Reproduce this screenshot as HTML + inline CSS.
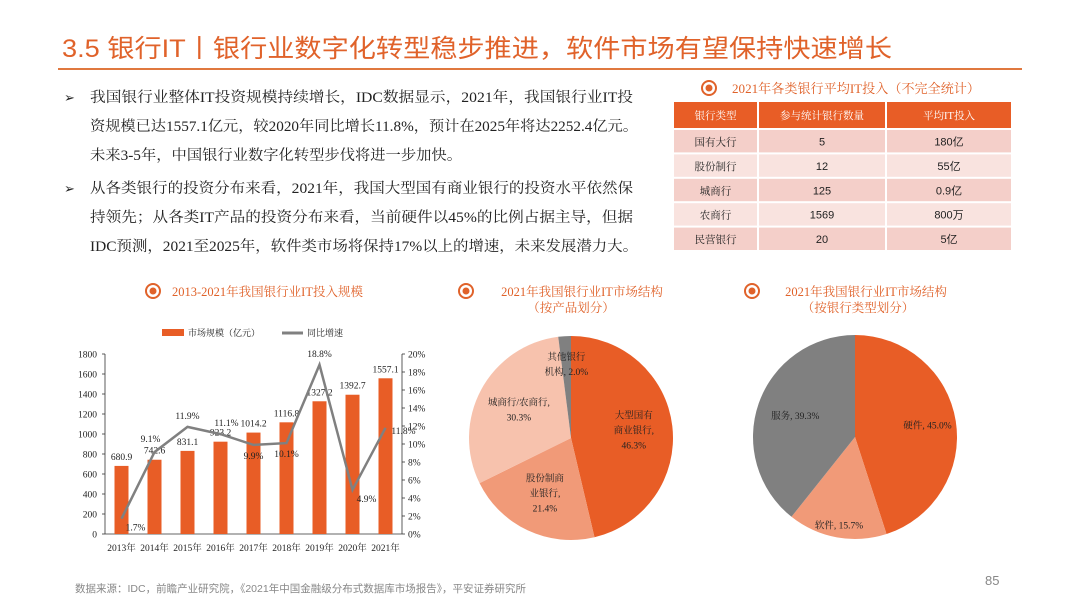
<!DOCTYPE html>
<html><head><meta charset="utf-8">
<style>
body{margin:0;background:#fff;}
#root{position:relative;width:1080px;height:608px;overflow:hidden;font-family:"Liberation Serif","Noto Serif CJK SC",serif;}
svg text{font-family:"Liberation Serif","Noto Serif CJK SC",serif;}
</style></head>
<body>
<div id="root">
<svg id="s" width="1080" height="608" viewBox="0 0 1080 608">
  <text x="62" y="57" font-size="25" fill="#e0622a" textLength="830" lengthAdjust="spacingAndGlyphs" style="font-family:'Liberation Sans','Noto Sans CJK SC',sans-serif">3.5 银行IT丨银行业数字化转型稳步推进，软件市场有望保持快速增长</text>
  <line x1="58" y1="69" x2="1022" y2="69" stroke="#e0783f" stroke-width="2"/>

  <g font-size="14.5" fill="#222">
    <text x="64" y="102" font-size="13">➢</text>
    <text x="90" y="102" textLength="543" lengthAdjust="spacingAndGlyphs">我国银行业整体IT投资规模持续增长，IDC数据显示，2021年，我国银行业IT投</text>
    <text x="90" y="131" textLength="548" lengthAdjust="spacingAndGlyphs">资规模已达1557.1亿元，较2020年同比增长11.8%，预计在2025年将达2252.4亿元。</text>
    <text x="90" y="160" textLength="372" lengthAdjust="spacingAndGlyphs">未来3-5年，中国银行业数字化转型步伐将进一步加快。</text>
    <text x="64" y="193" font-size="13">➢</text>
    <text x="90" y="193" textLength="543" lengthAdjust="spacingAndGlyphs">从各类银行的投资分布来看，2021年，我国大型国有商业银行的投资水平依然保</text>
    <text x="90" y="222" textLength="543" lengthAdjust="spacingAndGlyphs">持领先；从各类IT产品的投资分布来看，当前硬件以45%的比例占据主导，但据</text>
    <text x="90" y="251" textLength="548" lengthAdjust="spacingAndGlyphs">IDC预测，2021至2025年，软件类市场将保持17%以上的增速，未来发展潜力大。</text>
  </g>

  <!-- table -->
  <g>
    <circle cx="709" cy="88" r="7" fill="none" stroke="#e0622a" stroke-width="2"/>
    <circle cx="709" cy="88" r="3.5" fill="#e0622a"/>
    <text x="732" y="93" font-size="13" fill="#e0622a" textLength="248" lengthAdjust="spacingAndGlyphs">2021年各类银行平均IT投入（不完全统计）</text>
  </g>
  <g id="tbl"></g>

  <!-- chart titles -->
  <g>
    <circle cx="153" cy="291" r="7" fill="none" stroke="#e0622a" stroke-width="2"/><circle cx="153" cy="291" r="3.5" fill="#e0622a"/>
    <text x="172" y="296" font-size="12.5" fill="#e0622a">2013-2021年我国银行业IT投入规模</text>
  </g>
  <g>
    <circle cx="466" cy="291" r="7" fill="none" stroke="#e0622a" stroke-width="2"/><circle cx="466" cy="291" r="3.5" fill="#e0622a"/>
    <text x="582" y="296" font-size="12.5" fill="#e0622a" text-anchor="middle">2021年我国银行业IT市场结构</text>
    <text x="571" y="312" font-size="12.5" fill="#e0622a" text-anchor="middle">（按产品划分）</text>
  </g>
  <g>
    <circle cx="752" cy="291" r="7" fill="none" stroke="#e0622a" stroke-width="2"/><circle cx="752" cy="291" r="3.5" fill="#e0622a"/>
    <text x="866" y="296" font-size="12.5" fill="#e0622a" text-anchor="middle">2021年我国银行业IT市场结构</text>
    <text x="858" y="312" font-size="12.5" fill="#e0622a" text-anchor="middle">（按银行类型划分）</text>
  </g>

  <g id="bar"></g>
  <g id="pie1"></g>
  <g id="pie2"></g>

  <text x="75" y="592" font-size="10.5" fill="#888" style="font-family:'Liberation Sans','Noto Sans CJK SC',sans-serif">数据来源：IDC，前瞻产业研究院，《2021年中国金融级分布式数据库市场报告》，平安证券研究所</text>
  <text x="985" y="585" font-size="13" fill="#888" style="font-family:'Liberation Sans',sans-serif">85</text>
</svg>
</div>
<script>
const NS="http://www.w3.org/2000/svg";
const years=["2013年","2014年","2015年","2016年","2017年","2018年","2019年","2020年","2021年"];
const marketSize=[680.9,742.6,831.1,923.2,1014.2,1116.8,1327.2,1392.7,1557.1];
const growth=[1.7,9.1,11.9,11.1,9.9,10.1,18.8,4.9,11.8];
const leftTicks=[0,200,400,600,800,1000,1200,1400,1600,1800];
const rightTicks=[0,2,4,6,8,10,12,14,16,18,20];
const pie1Labels=[["大型国有","商业银行,","46.3%"],["股份制商","业银行,","21.4%"],["城商行/农商行,","30.3%"],["其他银行","机构, 2.0%"]];
const pie1Values=[46.3,21.4,30.3,2.0];
const pie2Labels=[["硬件, 45.0%"],["软件, 15.7%"],["服务, 39.3%"]];
const pie2Values=[45.0,15.7,39.3];
const tableHead=["银行类型","参与统计银行数量","平均IT投入"];
const tableRows=[["国有大行","5","180亿"],["股份制行","12","55亿"],["城商行","125","0.9亿"],["农商行","1569","800万"],["民营银行","20","5亿"]];

function mk(tag,attrs,parent,txt){const e=document.createElementNS(NS,tag);for(const k in attrs)e.setAttribute(k,attrs[k]);if(txt!==undefined)e.textContent=txt;parent.appendChild(e);return e;}

// table
(function(){
  const g=document.getElementById('tbl');
  const cols=[673,758,886,1012];
  const top=102,hh=26,rh=24.4;
  for(let c=0;c<3;c++){
    const r=mk('rect',{x:cols[c]+1,y:top,width:cols[c+1]-cols[c]-2,height:hh,fill:'#e85d26'},g);
    
    
    const t=mk('text',{x:(cols[c]+cols[c+1])/2,y:top+17,'font-size':10.5,fill:'#fff','text-anchor':'middle'},g,tableHead[c]);
    
    
  }
  tableRows.forEach((row,i)=>{
    const y=top+hh+2+i*rh;
    for(let c=0;c<3;c++){
      const r=mk('rect',{x:cols[c]+1,y:y,width:cols[c+1]-cols[c]-2,height:rh-2,fill:i%2?'#f9e3df':'#f4cfc9'},g);
      
      
      const t=mk('text',{x:(cols[c]+cols[c+1])/2,y:y+15.5,'font-size':c==0?10.5:11,fill:'#222','text-anchor':'middle',style:c==0?'':"font-family:'Liberation Sans','Noto Sans CJK SC',sans-serif"},g,row[c]);
      
      
    }
  });
})();

// bar + line chart
(function(){
  const g=document.getElementById('bar');
  const x0=105,x1=402,y0=534,yTop=354;
  const yL=v=>y0-(v/1800)*(y0-yTop);
  const yR=v=>y0-(v/20)*(y0-yTop);
  const step=(x1-x0)/years.length;
  const xc=i=>x0+step*(i+0.5);
  // legend
  const lb=mk('rect',{x:162,y:329,width:22,height:7,fill:'#e85d26'},g);
  
  
  mk('text',{x:188,y:336,'font-size':9,fill:'#222'},g,'市场规模（亿元）');
  const ll=mk('line',{x1:282,y1:333,x2:303,y2:333,stroke:'#808080','stroke-width':3},g);
  
  
  mk('text',{x:307,y:336,'font-size':9,fill:'#222'},g,'同比增速');
  // axes
  mk('line',{x1:x0,y1:yTop,x2:x0,y2:y0,stroke:'#333','stroke-width':0.8},g);
  mk('line',{x1:x1,y1:yTop,x2:x1,y2:y0,stroke:'#333','stroke-width':0.8},g);
  mk('line',{x1:x0,y1:y0,x2:x1,y2:y0,stroke:'#333','stroke-width':0.8},g);
  leftTicks.forEach(v=>{
    mk('line',{x1:x0-3,y1:yL(v),x2:x0,y2:yL(v),stroke:'#333','stroke-width':0.8},g);
    const t=mk('text',{x:x0-8,y:yL(v)+3.5,'font-size':9.5,fill:'#222','text-anchor':'end'},g,v);
    
    
  });
  rightTicks.forEach(v=>{
    mk('line',{x1:x1,y1:yR(v),x2:x1+3,y2:yR(v),stroke:'#333','stroke-width':0.8},g);
    const t=mk('text',{x:x1+6,y:yR(v)+3.5,'font-size':9.5,fill:'#222'},g,v+'%');
    
    
  });
  years.forEach((y,i)=>{
    const t=mk('text',{x:xc(i),y:y0+17,'font-size':9.5,fill:'#222','text-anchor':'middle'},g,y);
    
    
  });
  marketSize.forEach((v,i)=>{
    const r=mk('rect',{x:xc(i)-7,y:yL(v),width:14,height:y0-yL(v),fill:'#e85d26'},g);
    
    
    const t=mk('text',{x:xc(i),y:yL(v)-6,'font-size':9.5,fill:'#222','text-anchor':'middle'},g,v.toFixed(1));
    
    
  });
  const pts=growth.map((v,i)=>xc(i)+','+yR(v)).join(' ');
  const pl=mk('polyline',{points:pts,fill:'none',stroke:'#808080','stroke-width':2.5},g);
  
  
  const offs=[[14,12],[-4,-10],[0,-8],[6,-8],[0,14],[0,14],[0,-8],[14,12],[18,6]];
  growth.forEach((v,i)=>{
    const t=mk('text',{x:xc(i)+offs[i][0],y:yR(v)+offs[i][1],'font-size':9.5,fill:'#222','text-anchor':'middle'},g,v.toFixed(1)+'%');
    
    
  });
})();

// pies
function drawPie(id,vals,labels,colors,cx,cy,r,labelPos){
  const g=document.getElementById(id);
  const tot=vals.reduce((a,b)=>a+b,0);
  let a=-Math.PI/2;
  vals.forEach((v,i)=>{
    const a2=a+v/tot*2*Math.PI;
    const large=(a2-a)>Math.PI?1:0;
    const d=`M${cx},${cy} L${cx+r*Math.cos(a)},${cy+r*Math.sin(a)} A${r},${r} 0 ${large} 1 ${cx+r*Math.cos(a2)},${cy+r*Math.sin(a2)} Z`;
    const p=mk('path',{d:d,fill:colors[i]},g);
    
    
    const mid=(a+a2)/2, lr=r*labelPos[i];
    const lx=cx+lr*Math.cos(mid), ly=cy+lr*Math.sin(mid);
    const lines=labels[i];
    lines.forEach((s,k)=>{
      const t=mk('text',{x:lx,y:ly+(k-(lines.length-1)/2)*15+3,'font-size':9.5,fill:'#222','text-anchor':'middle'},g,s);
      
      
    });
    a=a2;
  });
}
drawPie('pie1',pie1Values,pie1Labels,['#e85d26','#f19a78','#f7c2ad','#808080'],571,438,102,[0.62,0.6,0.58,0.72]);
drawPie('pie2',pie2Values,pie2Labels,['#e85d26','#f19a78','#808080'],855,437,102,[0.72,0.88,0.62]);
</script>
</body></html>
